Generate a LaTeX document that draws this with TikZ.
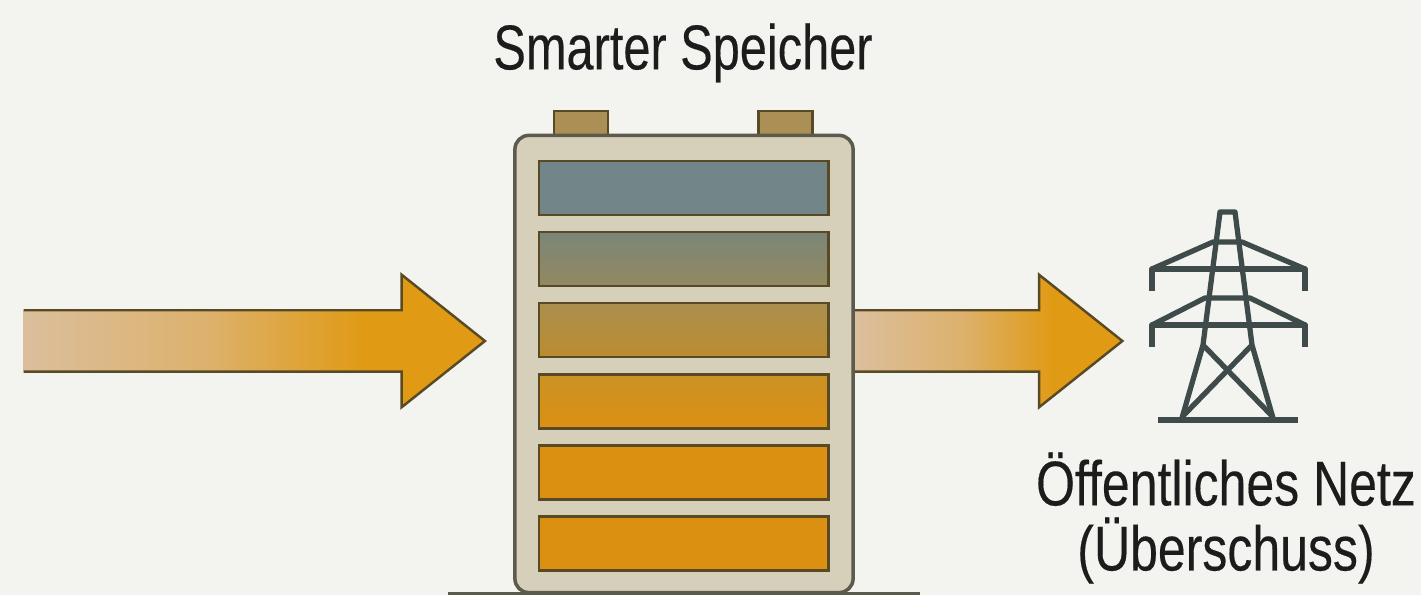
\documentclass[tikz,border=0pt]{standalone}
\usepackage{fontspec}
\usepackage{xcolor}
\usepackage{tikz}
\usetikzlibrary{shapes,arrows,positioning}
\setmainfont[FakeStretch=0.79,FakeBold=0.25]{Liberation Sans}
\newfontfamily\titlefont[FakeStretch=0.77,FakeBold=0.25]{Liberation Sans}

\definecolor{paper}{HTML}{F3F4EF}
\definecolor{casefill}{HTML}{D6CFBA}
\definecolor{caseline}{HTML}{5C5A4C}
\definecolor{cellline}{HTML}{594A26}
\definecolor{termfill}{HTML}{AB8F54}
\definecolor{flowtan}{HTML}{DBBE9C}
\definecolor{floworange}{HTML}{E09A14}
\definecolor{pylongrey}{HTML}{3F4A4A}
\definecolor{inktext}{HTML}{1C1C1C}
\definecolor{cellblue}{HTML}{72868A}
\definecolor{cellsage}{HTML}{7A8679}
\definecolor{cellolive}{HTML}{93895F}
\definecolor{cellochre}{HTML}{AB8F4E}
\definecolor{cellgold}{HTML}{BB8C30}
\definecolor{cellamber}{HTML}{CB9226}
\definecolor{cellorange}{HTML}{DB9011}

\pgfdeclarehorizontalshading{flowshade}{100bp}{
  color(0bp)=(flowtan); color(25bp)=(flowtan); color(45bp)=(flowtan!65!floworange);
  color(62bp)=(floworange); color(100bp)=(floworange)}

\begin{document}
\begin{tikzpicture}[
    x=0.01cm, y=-0.01cm,
    node distance=0.71cm,
    casebox/.style={rectangle, draw=caseline, line width=1pt, fill=casefill, rounded corners=0.14cm, minimum width=3.38cm, minimum height=4.57cm},
    cell/.style={rectangle, draw=cellline, line width=0.8pt, minimum width=2.89cm, minimum height=0.54cm, inner sep=0pt},
    terminal/.style={rectangle, draw=cellline, line width=0.8pt, fill=termfill, minimum width=0.54cm, minimum height=0.26cm, inner sep=0pt},
    flow/.style={single arrow, shading=flowshade, inner xsep=0pt, inner ysep=0.3cm, outer sep=0pt, minimum width=1.31cm, single arrow head extend=0.355cm, single arrow tip angle=77},
    outline/.style={draw=cellline, line width=0.7pt, line join=miter},
    pylon/.style={draw=pylongrey, line width=1.5pt, line cap=butt, line join=round},
    label/.style={text=inktext, font=\fontsize{18}{18.5}\selectfont, align=center, inner sep=0pt}
]

\fill [paper] (0,0) rectangle (1421,595);
\useasboundingbox (0,0) rectangle (1421,595);

\node [label, font=\fontsize{18}{18.5}\selectfont\titlefont] (title) at (683,53) {Smarter Speicher};
\node [label] (netz) at (1226,518) {Öffentliches Netz\\(Überschuss)};

\node [flow, minimum height=4.61cm] (inflow) at (235,341) {};
\node [flow, minimum height=2.67cm] (outflow) at (969.5,341) {};
\foreach \a in {inflow,outflow}
    \draw [outline] (\a.after tail) -- (\a.before head) -- (\a.before tip) -- (\a.tip) -- (\a.after tip) -- (\a.after head) -- (\a.before tail);

\node [terminal] (termleft) at (581,124) {};
\node [terminal] (termright) at (785.5,124) {};
\node [casebox] (battery) at (684,364) {};
\coordinate (baseleft) at (448,593.5);
\coordinate (baseright) at (920,593.5);
\draw [caseline, line width=1.1pt] (baseleft) -- (baseright);

\node [cell, fill=cellblue, at={(683.5,188)}] (cella) {};
\node [cell, top color=cellsage, bottom color=cellolive, below of=cella] (cellb) {};
\node [cell, top color=cellochre, bottom color=cellgold, below of=cellb] (cellc) {};
\node [cell, top color=cellamber, bottom color=cellorange, below of=cellc] (celld) {};
\node [cell, fill=cellorange, below of=celld] (celle) {};
\node [cell, fill=cellorange, below of=celle] (cellf) {};

\draw [pylon] (1182,418) -- (1203,345) -- (1220,212) -- (1235,212) -- (1252,345) -- (1273,418);
\draw [pylon] (1152,291) -- (1152,269) -- (1305,269) -- (1305,291);
\draw [pylon] (1152,269) -- (1213,242) -- (1242,242) -- (1305,269);
\draw [pylon] (1152,347) -- (1152,325) -- (1305,325) -- (1305,347);
\draw [pylon] (1152,325) -- (1205,298) -- (1250,298) -- (1305,325);
\draw [pylon] (1203,345) -- (1273,417);
\draw [pylon] (1252,345) -- (1182,417);
\draw [pylon] (1158,420) -- (1298,420);

\end{tikzpicture}
\end{document}
